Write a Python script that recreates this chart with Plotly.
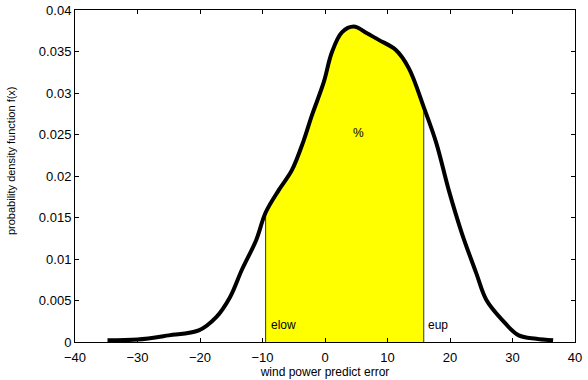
import plotly.graph_objects as go

# Estimated probability density of the wind power prediction error
err = [-34.8, -30, -25, -20.2, -17.4, -15.2, -13.3, -11.0, -9.5, -7.4, -5.3, -3.4,
       -2.1, -0.2, 1.1, 2.7, 4.6, 6.5, 8.6, 11.3, 13.4, 15.8, 17.8, 19.8, 21.9,
       24.2, 25.8, 28.3, 31.0, 33.8, 36.5]
pdf = [0.0002, 0.0003, 0.0008, 0.0014, 0.0030, 0.0054, 0.0087, 0.0123, 0.0156,
       0.0183, 0.0207, 0.0243, 0.0273, 0.0313, 0.0349, 0.0373, 0.0380, 0.0373,
       0.0364, 0.0352, 0.0330, 0.0283, 0.0240, 0.0183, 0.0131, 0.0083, 0.0051,
       0.0027, 0.0008, 0.0004, 0.0002]

# Confidence interval bounds
elow = -9.5
eup = 15.8

x_ticks = [-40, -30, -20, -10, 0, 10, 20, 30, 40]
y_ticks = [0, 0.005, 0.01, 0.015, 0.02, 0.025, 0.03, 0.035, 0.04]
y_tick_text = ["0", "0.005", "0.01", "0.015", "0.02", "0.025", "0.03", "0.035", "0.04"]

band_x = [x for x in err if elow <= x <= eup]
band_y = [y for x, y in zip(err, pdf) if elow <= x <= eup]
pdf_at = dict(zip(err, pdf))

SMOOTH = 1.0

fig = go.Figure()

# shaded interval under the curve
fig.add_trace(go.Scatter(
    x=band_x, y=band_y, mode="lines", fill="tozeroy",
    fillcolor="#ffff00",
    line=dict(color="rgba(0,0,0,0)", width=0, shape="spline", smoothing=SMOOTH),
    hoverinfo="skip", showlegend=False))

# vertical boundaries of the interval
for b in (elow, eup):
    fig.add_trace(go.Scatter(
        x=[b, b], y=[0, pdf_at[b]], mode="lines",
        line=dict(color="#333333", width=1), showlegend=False, hoverinfo="skip"))

# density curve
fig.add_trace(go.Scatter(
    x=err, y=pdf, mode="lines",
    line=dict(color="black", width=4, shape="spline", smoothing=SMOOTH),
    showlegend=False))

font = "Liberation Sans, Arial, Helvetica, sans-serif"

fig.add_annotation(x=5.4, y=0.0252, text="%", showarrow=False,
                   font=dict(family=font, size=12, color="black"))
fig.add_annotation(x=elow + 0.5, y=0.0021, text="elow", showarrow=False,
                   xanchor="left", font=dict(family=font, size=12, color="black"))
fig.add_annotation(x=eup + 0.3, y=0.0021, text="eup", showarrow=False,
                   xanchor="left", font=dict(family=font, size=12, color="black"))

# y axis title, placed slightly above the axis middle
fig.add_annotation(xref="paper", yref="paper", x=-0.128, y=0.545,
                   text="probability density function f(x)", textangle=-90,
                   showarrow=False, xanchor="center", yanchor="middle",
                   font=dict(family=font, size=11, color="black"))

axis_common = dict(showline=True, linecolor="black", linewidth=1, mirror="ticks",
                   ticks="inside", ticklen=4, tickcolor="black", showgrid=False,
                   zeroline=False, tickfont=dict(family=font, size=13, color="black"))

fig.update_layout(
    width=588, height=380,
    margin=dict(l=75, r=13, t=10, b=38, autoexpand=False),
    paper_bgcolor="white", plot_bgcolor="white",
    xaxis=dict(range=[-40, 40], tickvals=x_ticks, ticklabelstandoff=3,
               title=dict(text="wind power predict error", standoff=0,
                          font=dict(family=font, size=12, color="black")),
               **axis_common),
    yaxis=dict(range=[0, 0.04], tickvals=y_ticks, ticktext=y_tick_text,
               **axis_common),
)

fig.write_html("out.html")
